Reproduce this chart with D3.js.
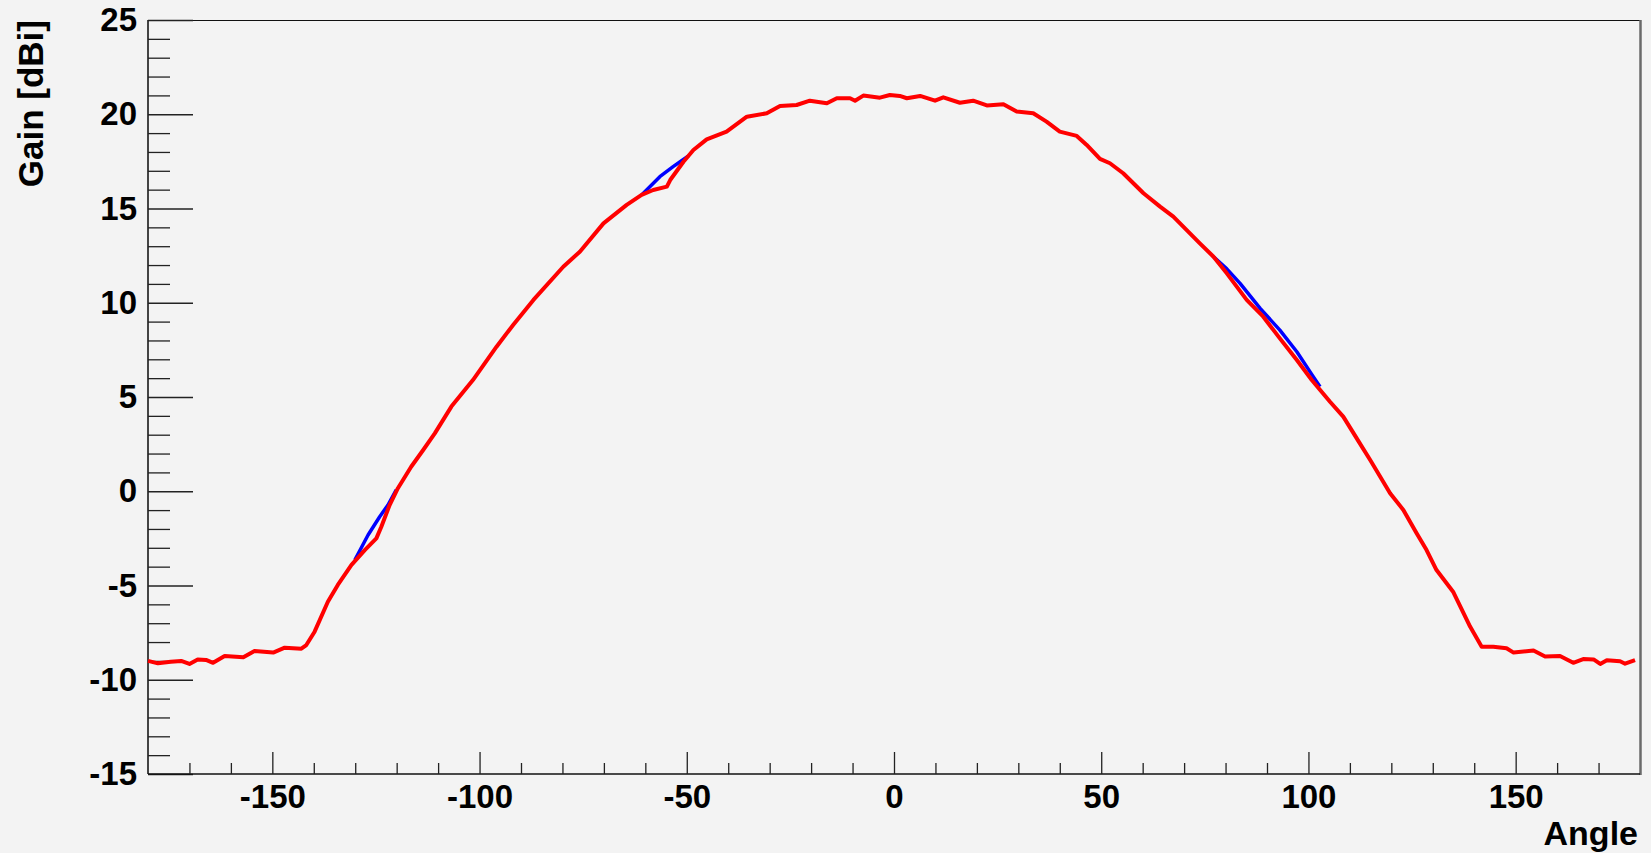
<!DOCTYPE html>
<html>
<head>
<meta charset="utf-8">
<script src="https://cdn.jsdelivr.net/npm/d3@7"></script>
<style>
    body { margin: 0; background: #f3f3f3; }
    svg { display: block; }
</style>
</head>
<body>
<div id="chart-area"></div>
<script>

// Red series: angle [deg] and gain [dBi]
var redAngle = [-180, -177.6, -174.5, -172, -170, -168, -166, -164.3, -161.5, -157, -154.3, -149.8, -147, -143, -141.8,
    -139.8, -136.6, -134.2, -130.9, -127.7, -124.9, -123.7, -121.7, -119.7, -116.5, -113.6, -110.8, -106.8, -101.6,
    -99.9, -95.9, -91.9, -87.0, -79.8, -75.8, -70.1, -64.5, -60.9, -58.1, -54.8, -54.0, -50.8, -48.4, -45.2, -40.4,
    -35.5, -30.7, -27.5, -23.5, -20.3, -16.2, -13.8, -10.6, -9.4, -7.4, -3.4, -1.0, 1.4, 3.1, 6.3, 9.9, 11.9, 15.9,
    19.1, 22.4, 26.4, 29.6, 33.6, 36.8, 40.0, 44.1, 46.5, 49.7, 52.1, 55.3, 60.2, 64.2, 67.4, 73.8, 77.1, 80.3, 85.1,
    89.1, 93.1, 97.2, 100.8, 105.2, 108.4, 112.4, 114.9, 119.7, 122.9, 126.1, 128.5, 130.9, 134.9, 139.0, 141.8,
    144.6, 147.8, 149.5, 154.3, 157.1, 160.7, 163.9, 166.3, 168.8, 170.4, 172.0, 175.2, 176.4, 178.8];
var redGain = [-9.0, -9.13, -9.05, -9.0, -9.16, -8.92, -8.95, -9.1, -8.74, -8.81, -8.47, -8.56, -8.30, -8.35, -8.16,
    -7.45, -5.86, -4.97, -3.91, -3.12, -2.50, -1.88, -0.73, 0.16, 1.30, 2.19, 3.07, 4.49, 5.90,
    6.43, 7.67, 8.82, 10.15, 11.91, 12.71, 14.21, 15.19, 15.72, 15.98, 16.16, 16.51, 17.48, 18.10, 18.67, 19.08,
    19.87, 20.05, 20.44, 20.49, 20.72, 20.58, 20.85, 20.85, 20.72, 20.99, 20.88, 21.02, 20.97, 20.85, 20.97, 20.72, 20.90, 20.61,
    20.72, 20.47, 20.53, 20.14, 20.05, 19.61, 19.08, 18.85, 18.37, 17.63, 17.40, 16.87, 15.81, 15.10, 14.57, 13.15, 12.44, 11.56, 10.15,
    9.26, 8.11, 6.96, 5.90, 4.75, 3.96, 2.54, 1.66, -0.11, -0.99, -2.23, -3.12, -4.18, -5.33, -7.18, -8.25,
    -8.25, -8.33, -8.56, -8.45, -8.77, -8.74, -9.10, -8.90, -8.92, -9.16, -8.96, -9.02, -9.15, -8.96];

// Blue series: only the parts that show out from under the red one
var blueAngle1 = [-130.1, -126.9, -124.1, -122.1, -120.1];
var blueGain1 = [-3.65, -2.32, -1.35, -0.73, 0.07];
var blueAngle2 = [-60.9, -56.5, -53.3, -51.6, -49.6];
var blueGain2 = [15.72, 16.69, 17.22, 17.48, 17.79];
var blueAngle3 = [77.1, 80.3, 83.5, 88.3, 93.1, 97.2, 100.8, 102.8];
var blueGain3 = [12.44, 11.80, 11.03, 9.71, 8.55, 7.40, 6.20, 5.55];

// Ticks
var xMajor = [-150, -100, -50, 0, 50, 100, 150];
var xMinor = [-170, -160, -140, -130, -120, -110, -90, -80, -70, -60, -40, -30, -20, -10,
    10, 20, 30, 40, 60, 70, 80, 90, 110, 120, 130, 140, 160, 170];
var yMajor = [-15, -10, -5, 0, 5, 10, 15, 20, 25];
var yMinor = [-14, -13, -12, -11, -9, -8, -7, -6, -4, -3, -2, -1, 1, 2, 3, 4,
    6, 7, 8, 9, 11, 12, 13, 14, 16, 17, 18, 19, 21, 22, 23, 24];

var W = 1651, H = 853;
var fLeft = 148, fRight = 1640, fTop = 20, fBottom = 774;
var font = "'Liberation Sans', Arial, sans-serif";

var svg = d3.select("#chart-area")
    .append("svg")
        .attr("width", W)
        .attr("height", H);

svg.append("rect")
    .attr("width", W)
    .attr("height", H)
    .attr("fill", "#f3f3f3");

var x = d3.scaleLinear()
    .domain([-180, 180])
    .range([fLeft, fRight]);

var y = d3.scaleLinear()
    .domain([-15, 25])
    .range([fBottom, fTop]);

// Frame top and right
svg.append("line")
    .attr("x1", fLeft).attr("x2", fRight)
    .attr("y1", fTop + 0.5).attr("y2", fTop + 0.5)
    .attr("stroke", "#111")
    .attr("stroke-width", 1.2);
svg.append("line")
    .attr("x1", fRight + 0.5).attr("x2", fRight + 0.5)
    .attr("y1", fTop).attr("y2", fBottom + 1)
    .attr("stroke", "#6a6a6a")
    .attr("stroke-width", 2.5);

// Y axis
var yAxisCall = d3.axisLeft(y)
    .tickValues(yMajor)
    .tickSize(-45)
    .tickPadding(11)
    .tickFormat(function(d){ return "" + d; });
var yAxis = svg.append("g")
    .attr("transform", "translate(" + fLeft + ",0)")
    .call(yAxisCall);

var yMinorCall = d3.axisLeft(y)
    .tickValues(yMinor)
    .tickSize(-22)
    .tickFormat("");
var yMinorAxis = svg.append("g")
    .attr("transform", "translate(" + fLeft + ",0)")
    .call(yMinorCall);
yMinorAxis.select(".domain").remove();

// X axis
var xAxisCall = d3.axisBottom(x)
    .tickValues(xMajor)
    .tickSize(-22)
    .tickPadding(11)
    .tickFormat(function(d){ return "" + d; });
var xAxis = svg.append("g")
    .attr("transform", "translate(0," + fBottom + ")")
    .call(xAxisCall);

var xMinorCall = d3.axisBottom(x)
    .tickValues(xMinor)
    .tickSize(-11)
    .tickFormat("");
var xMinorAxis = svg.append("g")
    .attr("transform", "translate(0," + fBottom + ")")
    .call(xMinorCall);
xMinorAxis.select(".domain").remove();

[yAxis, xAxis].forEach(function(a) {
    a.selectAll("text")
        .attr("font-family", font)
        .attr("font-weight", "bold")
        .attr("font-size", "33px")
        .attr("fill", "#000");
    a.selectAll(".tick line")
        .attr("stroke", "#222")
        .attr("stroke-width", 1.3);
});
[yMinorAxis, xMinorAxis].forEach(function(a) {
    a.selectAll(".tick line")
        .attr("stroke", "#222")
        .attr("stroke-width", 1.3);
});
yAxis.select(".domain")
    .attr("d", "M0," + fTop + "V" + fBottom)
    .attr("stroke", "#444")
    .attr("stroke-width", 2);
xAxis.select(".domain")
    .attr("d", "M" + fLeft + ",0H" + fRight)
    .attr("stroke", "#111")
    .attr("stroke-width", 1.5);

// Axis titles
svg.append("text")
    .attr("x", fRight - 2)
    .attr("y", 845)
    .attr("text-anchor", "end")
    .attr("font-family", font)
    .attr("font-weight", "bold")
    .attr("font-size", "34px")
    .text("Angle");

svg.append("text")
    .attr("transform", "translate(43," + fTop + ") rotate(-90)")
    .attr("text-anchor", "end")
    .attr("font-family", font)
    .attr("font-weight", "bold")
    .attr("font-size", "35px")
    .text("Gain [dBi]");

// Lines
var line = d3.line()
    .x(function(d){ return x(d[0]); })
    .y(function(d){ return y(d[1]); });

var blueParts = [[blueAngle1, blueGain1], [blueAngle2, blueGain2], [blueAngle3, blueGain3]];
blueParts.forEach(function(p) {
    svg.append("path")
        .datum(d3.zip(p[0], p[1]))
        .attr("d", line)
        .attr("fill", "none")
        .attr("stroke", "#0000ff")
        .attr("stroke-width", 3.5)
        .attr("stroke-linejoin", "round");
});

svg.append("path")
    .datum(d3.zip(redAngle, redGain))
    .attr("d", line)
    .attr("fill", "none")
    .attr("stroke", "#ff0000")
    .attr("stroke-width", 4)
    .attr("stroke-linejoin", "round");

</script>
</body>
</html>
